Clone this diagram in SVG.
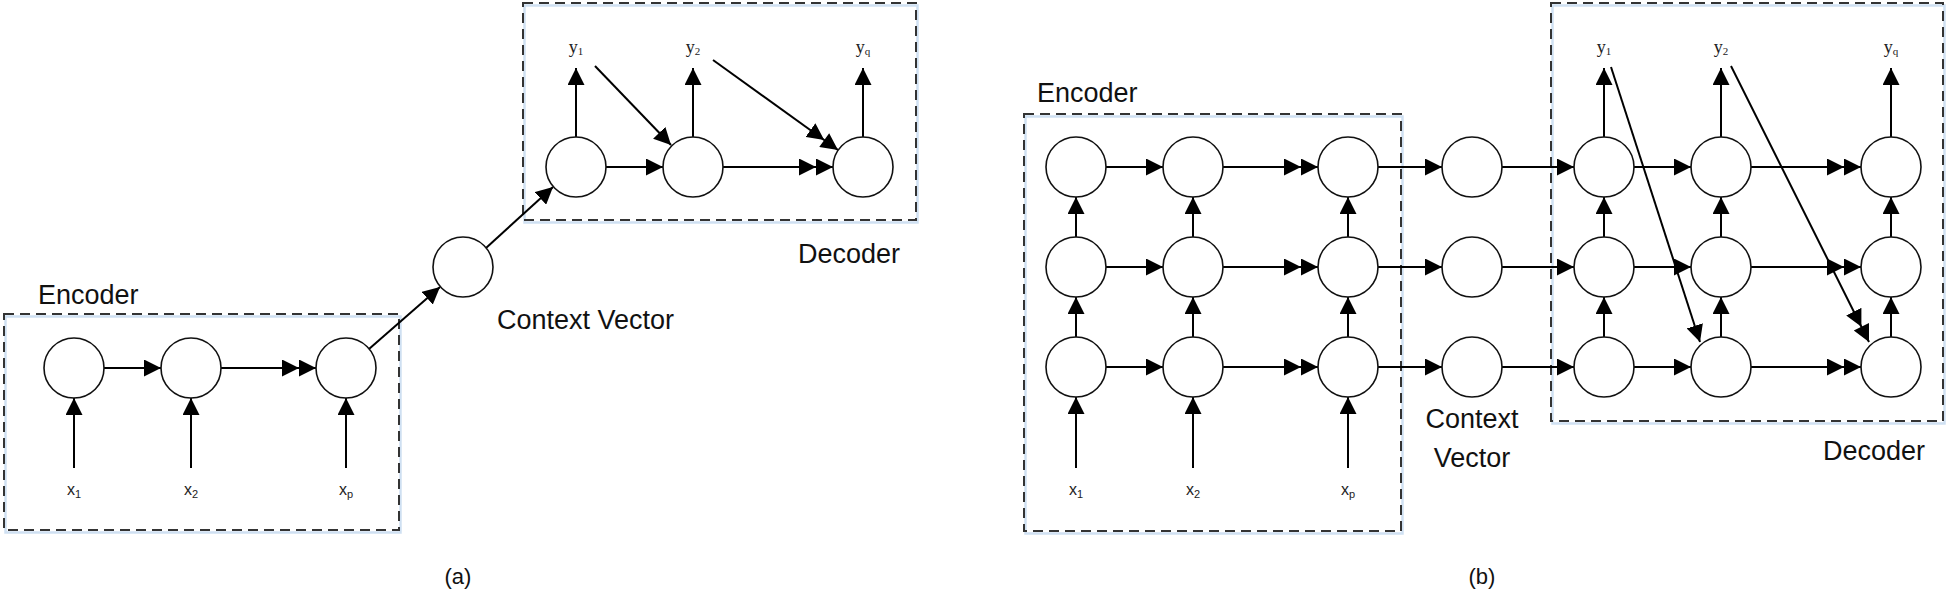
<svg xmlns="http://www.w3.org/2000/svg" width="1946" height="590" viewBox="0 0 1946 590">
<style>
.box{fill:none;stroke:#333;stroke-width:2;stroke-dasharray:10 6}
.glow{fill:none;stroke:#c3d8ef;stroke-width:2.5;opacity:0.8}
.n{fill:#fff;stroke:#111;stroke-width:1.6}
.c{stroke:#000;stroke-width:2;fill:none}
.s{marker-end:url(#a1)}
.d{marker-end:url(#a2)}
.lbl{font-family:"Liberation Sans",Arial,sans-serif;font-size:27px;fill:#111}
.xl{font-family:"Liberation Sans",Arial,sans-serif;font-size:16px;fill:#222;text-anchor:middle}
.yl{font-family:"Liberation Serif","Times New Roman",serif;font-size:18px;fill:#222;text-anchor:middle}
.sub{font-size:11px}
.cap{font-family:"Liberation Sans",Arial,sans-serif;font-size:22px;fill:#111;text-anchor:middle}
</style>
<defs>
<marker id="a1" markerUnits="userSpaceOnUse" viewBox="0 -8.5 17 17" markerWidth="17" markerHeight="17" refX="17" refY="0" orient="auto"><path d="M0,-8.5 L17,0 L0,8.5 Z" fill="#000"/></marker>
<marker id="a2" markerUnits="userSpaceOnUse" viewBox="0 -8.5 34 17" markerWidth="34" markerHeight="17" refX="34" refY="0" orient="auto"><path d="M0,-8.5 L17,0 L0,8.5 Z M17,-8.5 L34,0 L17,8.5 Z" fill="#000"/></marker>
</defs>

<!-- ===== (a) ===== -->
<g id="a-encoder-box">
<rect class="glow" x="5.5" y="316.5" width="395" height="216"/>
<rect class="box" x="4" y="314" width="395" height="216"/>
<text class="lbl" x="38" y="304">Encoder</text>
</g>
<g id="a-decoder-box">
<rect class="glow" x="524.5" y="5.5" width="393" height="217"/>
<rect class="box" x="523" y="3" width="393" height="217"/>
<text class="lbl" x="798" y="263">Decoder</text>
</g>

<g id="a-connectors">
<line class="c s" x1="74" y1="468" x2="74" y2="398"/>
<line class="c s" x1="191" y1="468" x2="191" y2="398"/>
<line class="c s" x1="346" y1="468" x2="346" y2="398"/>
<line class="c s" x1="104" y1="368" x2="161" y2="368"/>
<line class="c d" x1="221" y1="368" x2="316" y2="368"/>
<line class="c s" x1="369" y1="349" x2="440" y2="287"/>
<line class="c s" x1="486" y1="248" x2="553" y2="187"/>
<line class="c s" x1="606" y1="167" x2="663" y2="167"/>
<line class="c d" x1="723" y1="167" x2="833" y2="167"/>
<line class="c s" x1="576" y1="137" x2="576" y2="68"/>
<line class="c s" x1="693" y1="137" x2="693" y2="68"/>
<line class="c s" x1="863" y1="137" x2="863" y2="68"/>
<line class="c s" x1="595" y1="66" x2="671" y2="145"/>
<line class="c d" x1="713" y1="60" x2="838" y2="150"/>
</g>

<g id="a-enc1"><circle class="n" cx="74" cy="368" r="30"/></g>
<g id="a-enc2"><circle class="n" cx="191" cy="368" r="30"/></g>
<g id="a-enc3"><circle class="n" cx="346" cy="368" r="30"/></g>
<g id="a-context"><circle class="n" cx="463" cy="267" r="30"/>
<text class="lbl" x="497" y="329">Context Vector</text></g>
<g id="a-dec1"><circle class="n" cx="576" cy="167" r="30"/></g>
<g id="a-dec2"><circle class="n" cx="693" cy="167" r="30"/></g>
<g id="a-dec3"><circle class="n" cx="863" cy="167" r="30"/></g>

<g id="a-labels">
<text class="xl" x="74" y="495">x<tspan class="sub" dy="3">1</tspan></text>
<text class="xl" x="191" y="495">x<tspan class="sub" dy="3">2</tspan></text>
<text class="xl" x="346" y="495">x<tspan class="sub" dy="3">p</tspan></text>
<text class="yl" x="576" y="53">y<tspan class="sub" dy="2">1</tspan></text>
<text class="yl" x="693" y="53">y<tspan class="sub" dy="2">2</tspan></text>
<text class="yl" x="863" y="53">y<tspan class="sub" dy="2">q</tspan></text>
<text class="cap" x="458" y="584">(a)</text>
</g>

<!-- ===== (b) ===== -->
<g id="b-encoder-box">
<rect class="glow" x="1025.5" y="116.5" width="377" height="417"/>
<rect class="box" x="1024" y="114" width="377" height="417"/>
<text class="lbl" x="1037" y="102">Encoder</text>
</g>
<g id="b-decoder-box">
<rect class="glow" x="1552.5" y="5.5" width="392" height="418"/>
<rect class="box" x="1551" y="3" width="392" height="418"/>
<text class="lbl" x="1823" y="460">Decoder</text>
</g>

<g id="b-connectors">
<line class="c s" x1="1076" y1="468" x2="1076" y2="397"/>
<line class="c s" x1="1193" y1="468" x2="1193" y2="397"/>
<line class="c s" x1="1348" y1="468" x2="1348" y2="397"/>
<line class="c s" x1="1076" y1="337" x2="1076" y2="297"/>
<line class="c s" x1="1076" y1="237" x2="1076" y2="197"/>
<line class="c s" x1="1193" y1="337" x2="1193" y2="297"/>
<line class="c s" x1="1193" y1="237" x2="1193" y2="197"/>
<line class="c s" x1="1348" y1="337" x2="1348" y2="297"/>
<line class="c s" x1="1348" y1="237" x2="1348" y2="197"/>
<line class="c s" x1="1604" y1="337" x2="1604" y2="297"/>
<line class="c s" x1="1604" y1="237" x2="1604" y2="197"/>
<line class="c s" x1="1721" y1="337" x2="1721" y2="297"/>
<line class="c s" x1="1721" y1="237" x2="1721" y2="197"/>
<line class="c s" x1="1891" y1="337" x2="1891" y2="297"/>
<line class="c s" x1="1891" y1="237" x2="1891" y2="197"/>
<line class="c s" x1="1604" y1="137" x2="1604" y2="68"/>
<line class="c s" x1="1721" y1="137" x2="1721" y2="68"/>
<line class="c s" x1="1891" y1="137" x2="1891" y2="68"/>
<line class="c s" x1="1106" y1="167" x2="1163" y2="167"/>
<line class="c d" x1="1223" y1="167" x2="1318" y2="167"/>
<line class="c s" x1="1378" y1="167" x2="1442" y2="167"/>
<line class="c s" x1="1502" y1="167" x2="1574" y2="167"/>
<line class="c s" x1="1634" y1="167" x2="1691" y2="167"/>
<line class="c d" x1="1751" y1="167" x2="1861" y2="167"/>
<line class="c s" x1="1106" y1="267" x2="1163" y2="267"/>
<line class="c d" x1="1223" y1="267" x2="1318" y2="267"/>
<line class="c s" x1="1378" y1="267" x2="1442" y2="267"/>
<line class="c s" x1="1502" y1="267" x2="1574" y2="267"/>
<line class="c s" x1="1634" y1="267" x2="1691" y2="267"/>
<line class="c d" x1="1751" y1="267" x2="1861" y2="267"/>
<line class="c s" x1="1106" y1="367" x2="1163" y2="367"/>
<line class="c d" x1="1223" y1="367" x2="1318" y2="367"/>
<line class="c s" x1="1378" y1="367" x2="1442" y2="367"/>
<line class="c s" x1="1502" y1="367" x2="1574" y2="367"/>
<line class="c s" x1="1634" y1="367" x2="1691" y2="367"/>
<line class="c d" x1="1751" y1="367" x2="1861" y2="367"/>
<line class="c s" x1="1611" y1="67" x2="1700" y2="342"/>
<line class="c d" x1="1731" y1="66" x2="1869" y2="342"/>
</g>

<g id="b-enc-1-1"><circle class="n" cx="1076" cy="167" r="30"/></g>
<g id="b-enc-1-2"><circle class="n" cx="1193" cy="167" r="30"/></g>
<g id="b-enc-1-3"><circle class="n" cx="1348" cy="167" r="30"/></g>
<g id="b-enc-2-1"><circle class="n" cx="1076" cy="267" r="30"/></g>
<g id="b-enc-2-2"><circle class="n" cx="1193" cy="267" r="30"/></g>
<g id="b-enc-2-3"><circle class="n" cx="1348" cy="267" r="30"/></g>
<g id="b-enc-3-1"><circle class="n" cx="1076" cy="367" r="30"/></g>
<g id="b-enc-3-2"><circle class="n" cx="1193" cy="367" r="30"/></g>
<g id="b-enc-3-3"><circle class="n" cx="1348" cy="367" r="30"/></g>
<g id="b-ctx-1"><circle class="n" cx="1472" cy="167" r="30"/></g>
<g id="b-ctx-2"><circle class="n" cx="1472" cy="267" r="30"/></g>
<g id="b-ctx-3"><circle class="n" cx="1472" cy="367" r="30"/></g>
<g id="b-dec-1-1"><circle class="n" cx="1604" cy="167" r="30"/></g>
<g id="b-dec-1-2"><circle class="n" cx="1721" cy="167" r="30"/></g>
<g id="b-dec-1-3"><circle class="n" cx="1891" cy="167" r="30"/></g>
<g id="b-dec-2-1"><circle class="n" cx="1604" cy="267" r="30"/></g>
<g id="b-dec-2-2"><circle class="n" cx="1721" cy="267" r="30"/></g>
<g id="b-dec-2-3"><circle class="n" cx="1891" cy="267" r="30"/></g>
<g id="b-dec-3-1"><circle class="n" cx="1604" cy="367" r="30"/></g>
<g id="b-dec-3-2"><circle class="n" cx="1721" cy="367" r="30"/></g>
<g id="b-dec-3-3"><circle class="n" cx="1891" cy="367" r="30"/></g>

<g id="b-labels">
<text class="lbl" x="1472" y="428" text-anchor="middle">Context</text>
<text class="lbl" x="1472" y="467" text-anchor="middle">Vector</text>
<text class="xl" x="1076" y="495">x<tspan class="sub" dy="3">1</tspan></text>
<text class="xl" x="1193" y="495">x<tspan class="sub" dy="3">2</tspan></text>
<text class="xl" x="1348" y="495">x<tspan class="sub" dy="3">p</tspan></text>
<text class="yl" x="1604" y="53">y<tspan class="sub" dy="2">1</tspan></text>
<text class="yl" x="1721" y="53">y<tspan class="sub" dy="2">2</tspan></text>
<text class="yl" x="1891" y="53">y<tspan class="sub" dy="2">q</tspan></text>
<text class="cap" x="1482" y="584">(b)</text>
</g>
</svg>
